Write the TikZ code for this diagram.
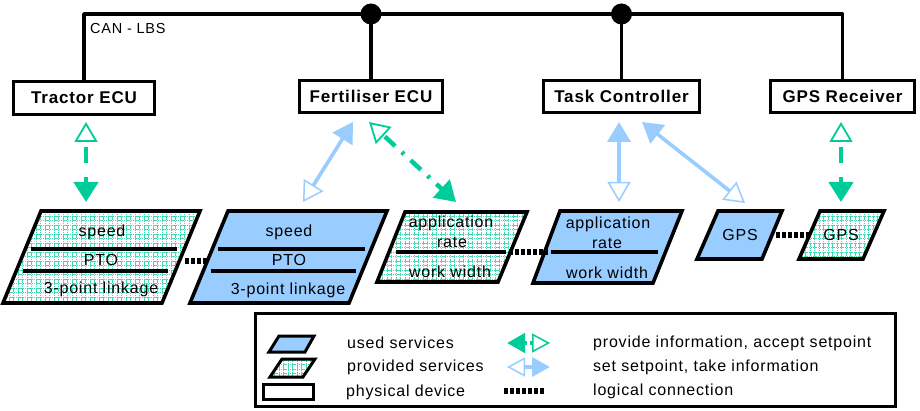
\documentclass[tikz,border=0pt]{standalone}
\usepackage{fontspec}
\setmainfont{Liberation Sans}
\newfontfamily\spaced[LetterSpace=5]{Liberation Sans}
\usetikzlibrary{arrows.meta}
\definecolor{tgreen}{HTML}{00CC99}
\definecolor{tblue}{HTML}{99CCFF}
\begin{document}
\begin{tikzpicture}[x=1pt,y=-1pt,
  dev/.style={draw, line width=3.4pt, font=\spaced\bfseries\fontsize{17}{20}\selectfont, inner sep=0pt},
  bus/.style={line width=3.6pt, line join=round},
  junction/.style={circle, fill=black, inner sep=0pt, minimum size=21pt},
  pbord/.style={draw=black, line width=3.6pt, line join=miter},
  usedfill/.style={fill=tblue},
  sep/.style={line width=3.6pt},
  hatchgrid/.style={tgreen!75, line width=0.45pt, dash pattern=on 1.5pt off 0.75pt, step=4.5pt},
  txt/.style={font=\spaced\fontsize{16}{18}\selectfont, inner sep=0pt},
  legtxt/.style={font=\spaced\fontsize{16}{18}\selectfont, inner sep=0pt, anchor=west},
  logic/.style={line width=6pt, dash pattern=on 3.5pt off 2.5pt},
  barrow/.style={tblue, line width=3.6pt,
    arrows={Triangle[width=23pt,length=20pt]-Triangle[open,width=23pt,length=20pt,line width=1.5pt]}},
  garrow/.style={tgreen, line width=4.5pt,
    arrows={Triangle[open,width=23pt,length=20pt,line width=1.8pt]-Triangle[width=24pt,length=20pt]}},
]
\useasboundingbox (0,0) rectangle (920,411);
\fill[white] (0,0) rectangle (920,411);

% ---------------- devices ----------------
\node[dev, minimum width=141pt, minimum height=33pt] (tractor) at (84,98) {Tractor ECU};
\node[dev, minimum width=143pt, minimum height=32pt] (fert) at (371,96.5) {Fertiliser ECU};
\node[dev, minimum width=156pt, minimum height=32pt] (task) at (621.5,96.5) {Task Controller};
\node[dev, minimum width=144pt, minimum height=32pt] (gps) at (842.5,96.5) {GPS Receiver};

% ---------------- bus ----------------
\coordinate (busL) at (84,14);
\coordinate (busR) at (842.5,14);
\draw[bus] (tractor.north) -- (busL) -- (busR) -- (gps.north);
\node[junction] (j1) at (fert.north |- busL) {};
\node[junction] (j2) at (task.north |- busL) {};
\draw[bus] (j1.center) -- (fert.north);
\draw[bus] (j2.center) -- (task.north);
\node[anchor=west, inner sep=0pt, font=\spaced\fontsize{14.5}{17}\selectfont] (can) at (90,29) {CAN - LBS};

% ---------------- P1: tractor provided (hatched) ----------------
\begin{scope}
  \clip (41,211) -- (200,211) -- (162,303) -- (3,303) -- cycle;
  \draw[hatchgrid] (0,200) grid (210,310);
\end{scope}
\draw[pbord] (41,211) -- (200,211) -- (162,303) -- (3,303) -- cycle;
\draw[sep] (31,249) -- (177,249);
\draw[sep] (23,271) -- (168,271);
\node[txt] (p1a) at (102,232) {speed};
\node[txt] (p1b) at (101,260) {PTO};
\node[txt] (p1c) at (101,289) {3-point linkage};

% ---------------- P2: tractor used (blue) ----------------
\draw[pbord, usedfill] (228,211) -- (387,211) -- (349,303) -- (190,303) -- cycle;
\draw[sep] (218,249) -- (365,249);
\draw[sep] (211,271) -- (356,271);
\node[txt] (p2a) at (289,232) {speed};
\node[txt] (p2b) at (289,260) {PTO};
\node[txt] (p2c) at (288,290) {3-point linkage};

\coordinate (l1a) at (185,261);
\coordinate (l1b) at (207,261);
\draw[logic] (l1a) -- (l1b);

% ---------------- P3: fertiliser provided (hatched) ----------------
\begin{scope}
  \clip (405,212) -- (527,212) -- (498,282) -- (377,282) -- cycle;
  \draw[hatchgrid] (370,205) grid (535,290);
\end{scope}
\draw[pbord] (405,212) -- (527,212) -- (498,282) -- (377,282) -- cycle;
\draw[sep] (396,252) -- (506,252);
\node[txt] (p3a) at (451,223) {application};
\node[txt] (p3b) at (452,242) {rate};
\node[txt] (p3c) at (450,272) {work width};

% ---------------- P4: fertiliser used (blue) ----------------
\draw[pbord, usedfill] (560,211) -- (682,211) -- (653,283) -- (533,283) -- cycle;
\draw[sep] (551,252) -- (658,252);
\node[txt] (p4a) at (608,224) {application};
\node[txt] (p4b) at (607,243) {rate};
\node[txt] (p4c) at (607,273) {work width};

\coordinate (l2a) at (509,252);
\coordinate (l2b) at (548,252);
\draw[logic] (l2a) -- (l2b);

% ---------------- P5: GPS used (blue) ----------------
\draw[pbord, usedfill] (718,211) -- (782,211) -- (762,259) -- (697,259) -- cycle;
\node[txt] (p5a) at (740,235) {GPS};

% ---------------- P6: GPS provided (hatched) ----------------
\begin{scope}
  \clip (820,211) -- (884,211) -- (863,259) -- (799,259) -- cycle;
  \draw[hatchgrid] (795,205) grid (890,265);
\end{scope}
\draw[pbord] (820,211) -- (884,211) -- (863,259) -- (799,259) -- cycle;
\node[txt] (p6a) at (841,235) {GPS};

\coordinate (l3a) at (776,235);
\coordinate (l3b) at (811,235);
\draw[logic] (l3a) -- (l3b);

% ---------------- arrows ----------------
\coordinate (aA1) at (86,122);  \coordinate (aA2) at (86,202);
\coordinate (aB1) at (353,122); \coordinate (aB2) at (303,202);
\coordinate (aC1) at (369,122); \coordinate (aC2) at (456,202);
\coordinate (aD1) at (619,122); \coordinate (aD2) at (619,202);
\coordinate (aE1) at (642,122); \coordinate (aE2) at (745,203);
\coordinate (aF1) at (841,122); \coordinate (aF2) at (841,202);

\draw[garrow, dash pattern=on 16pt off 14pt, dash phase=-5pt] (aA1) -- (aA2);
\draw[barrow] (aB1) -- (aB2);
\draw[garrow, dash pattern=on 14pt off 9pt on 3pt off 9pt, dash phase=-2pt] (aC1) -- (aC2);
\draw[barrow] (aD1) -- (aD2);
\draw[barrow] (aE1) -- (aE2);
\draw[garrow, dash pattern=on 16pt off 14pt, dash phase=-5pt] (aF1) -- (aF2);

% ---------------- legend ----------------
\node[draw, line width=3.6pt, minimum width=640pt, minimum height=93pt, inner sep=0pt] (legend) at (575.5,360) {};

\draw[pbord, line width=3pt, usedfill] (279,336) -- (314,336) -- (305,352) -- (269,352) -- cycle;
\begin{scope}
  \clip (282,359) -- (315,359) -- (303,377) -- (270,377) -- cycle;
  \draw[hatchgrid] (265,355) grid (320,380);
\end{scope}
\draw[pbord, line width=3pt] (282,359) -- (315,359) -- (303,377) -- (270,377) -- cycle;
\node[draw, line width=3pt, minimum width=50pt, minimum height=15pt, inner sep=0pt] (legdev) at (288,391.5) {};

\node[legtxt] (t1) at (347,343) {used services};
\node[legtxt] (t2) at (347,367) {provided services};
\node[legtxt] (t3) at (346,392) {physical device};

\coordinate (lg1) at (507,343); \coordinate (lg2) at (550,343);
\coordinate (lb1) at (507,367); \coordinate (lb2) at (550,367);
\coordinate (ll1) at (504,391); \coordinate (ll2) at (545,391);
\draw[tgreen, line width=4.5pt, dash pattern=on 3pt off 3pt,
  arrows={Triangle[width=19pt,length=18pt]-Triangle[open,width=19pt,length=18pt,line width=1.5pt]}] (lg1) -- (lg2);
\draw[tblue, line width=3.6pt,
  arrows={Triangle[open,width=19pt,length=18pt,line width=1.5pt]-Triangle[width=19pt,length=18pt]}] (lb1) -- (lb2);
\draw[logic] (ll1) -- (ll2);

\node[legtxt] (t4) at (593,343) {provide information, accept setpoint};
\node[legtxt] (t5) at (593,367) {set setpoint, take information};
\node[legtxt] (t6) at (593,391) {logical connection};
\end{tikzpicture}
\end{document}
